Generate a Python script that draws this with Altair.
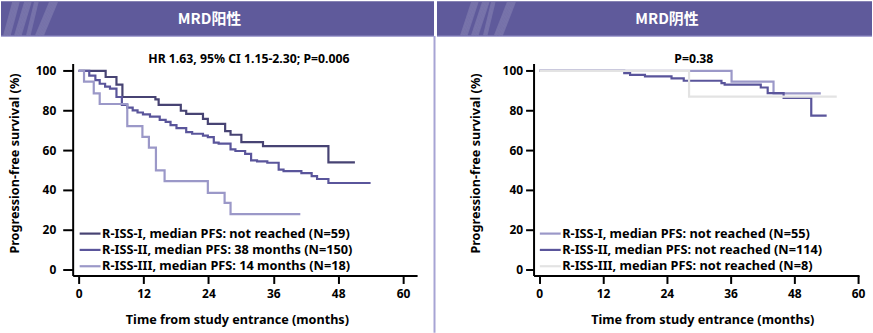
import altair as alt
import pandas as pd

# ---------------- data ----------------
panel_titles = ["MRD阳性", "MRD阴性"]
annotations = ["HR 1.63, 95% CI 1.15-2.30; P=0.006", "P=0.38"]
x_ticks = [0, 12, 24, 36, 48, 60]
y_ticks = [0, 20, 40, 60, 80, 100]
x_title = "Time from study entrance (months)"
y_title = "Progression-free survival (%)"

pos_labels = [
    "R-ISS-I, median PFS: not reached (N=59)",
    "R-ISS-II, median PFS: 38 months (N=150)",
    "R-ISS-III, median PFS: 14 months (N=18)",
]
neg_labels = [
    "R-ISS-I, median PFS: not reached (N=55)",
    "R-ISS-II, median PFS: not reached (N=114)",
    "R-ISS-III, median PFS: not reached (N=8)",
]

# MRD positive
pos_I_t = [0, 5.0, 7.0, 8.1, 14.2, 14.8, 18.9, 19.9, 23.0, 23.9, 27.1, 28.1, 30.1, 34.1, 46.2, 51.1]
pos_I_s = [100, 96.9, 93.0, 86.8, 85.6, 82.8, 79.9, 78.3, 75.8, 73.3, 69.6, 67.8, 64.1, 62.1, 53.9, 53.9]

pos_II_t = [0, 1.97, 3.1, 3.9, 4.9, 5.8, 7.0, 8.0, 9.0, 10.0, 10.9, 11.9, 13.2, 15.0, 16.1, 17.0,
            18.1, 19.9, 21.0, 23.0, 23.9, 25.0, 25.9, 28.1, 29.0, 30.8, 31.9, 33.0, 34.9, 37.0,
            37.9, 41.2, 43.1, 44.1, 46.2, 54.0]
pos_II_s = [100, 97.6, 95.3, 93.5, 92.0, 91.0, 86.8, 82.8, 81.5, 80.1, 79.0, 78.1, 76.9, 75.3, 74.3, 72.6,
            71.1, 69.1, 68.3, 67.4, 66.6, 63.8, 63.3, 60.4, 59.6, 58.2, 54.9, 54.4, 53.7, 50.2,
            49.5, 48.5, 47.0, 45.5, 43.5, 43.5]

pos_III_t = [0, 1.0, 2.8, 3.9, 9.0, 11.8, 13.0, 14.3, 15.9, 23.9, 27.0, 28.1, 41.0]
pos_III_s = [100, 94.6, 88.6, 83.3, 72.1, 66.7, 61.3, 49.9, 44.4, 38.5, 33.5, 27.8, 27.8]

# MRD negative
neg_I_t = [0, 36.2, 44.1, 53.0]
neg_I_s = [100, 94.6, 88.6, 88.6]

neg_II_t = [0, 16.0, 17.1, 19.9, 24.9, 27.2, 34.3, 34.9, 41.7, 43.0, 46.0, 51.2, 54.1]
neg_II_s = [100, 98.8, 98.0, 97.2, 96.2, 95.0, 93.8, 93.0, 91.6, 88.8, 86.3, 77.4, 77.4]

neg_III_t = [0, 28.2, 56.0]
neg_III_s = [100, 87.0, 87.0]

pos_colors = ["#474373", "#5a559b", "#9b98c8"]
neg_colors = ["#9b98c8", "#5a559b", "#e3e3e3"]

BAND = "#5f5a9b"
FONT = "Noto Sans"


def make_df(labels, ts, ss):
    rows = []
    for lab, t, s in zip(labels, ts, ss):
        for a, b in zip(t, s):
            rows.append({"group": lab, "t": a, "s": b})
    return pd.DataFrame(rows)


pos_df = make_df(pos_labels, [pos_I_t, pos_II_t, pos_III_t], [pos_I_s, pos_II_s, pos_III_s])
neg_df = make_df(neg_labels, [neg_I_t, neg_II_t, neg_III_t], [neg_I_s, neg_II_s, neg_III_s])

PH = 213
TOP = -62.5
BOT = -27.5
LEG_ROWS = [170.9, 187.3, 203.7]


def panel(df, labels, colors, title, annot, xdomain, pw, left_ext, right_ext,
          title_x, annot_x, xtitle_x, ytick, ylabpad, stripes_x, divider, leg_x):
    one = pd.DataFrame({"title": [title], "annot": [annot]})
    lines = alt.Chart(df).mark_line(interpolate="step-after", strokeWidth=2.2).encode(
        x=alt.X("t:Q", scale=alt.Scale(domain=xdomain, nice=False, zero=False),
                axis=alt.Axis(values=x_ticks, title=x_title, grid=False, tickSize=8,
                              labelPadding=5, titleX=xtitle_x, titleY=44, titleBaseline="middle")),
        y=alt.Y("s:Q", scale=alt.Scale(domain=[-3.1, 103.7], nice=False, zero=False),
                axis=alt.Axis(values=y_ticks, title=y_title, grid=False, tickSize=ytick,
                              labelPadding=ylabpad, titleX=-58, titleY=100,
                              titleBaseline="middle")),
        color=alt.Color("group:N", scale=alt.Scale(domain=labels, range=colors), legend=None),
    )
    header = alt.Chart(one).mark_rect(color=BAND).encode(
        x=alt.value(-left_ext), x2=alt.value(pw + right_ext),
        y=alt.value(TOP), y2=alt.value(BOT))
    band_line = alt.Chart(one).mark_rule(color="#8e8ac4", strokeWidth=1.2).encode(
        x=alt.value(-left_ext), x2=alt.value(pw + right_ext), y=alt.value(BOT))
    layers = [header, band_line]
    # decorative diagonal stripes, built from thin parallel strokes
    for xb, xt, w in stripes_x:
        n = max(2, int(round(w / 1.5)))
        for k in range(n):
            off = k * 1.5
            layers.append(alt.Chart(one).mark_rule(color="white", opacity=0.14, strokeWidth=1.6).encode(
                x=alt.value(xb + off), x2=alt.value(xt + off),
                y=alt.value(BOT - 0.8), y2=alt.value(TOP + 0.8)))
    head_text = alt.Chart(one).mark_text(font="Noto Sans CJK SC", fontWeight="bold", fontSize=15,
                                         color="white", baseline="middle").encode(
        x=alt.value(title_x), y=alt.value(-45), text="title:N")
    ann = alt.Chart(one).mark_text(font=FONT, fontWeight="bold", fontSize=12.3, color="black",
                                   baseline="middle").encode(
        x=alt.value(annot_x), y=alt.value(-4), text="annot:N")
    layers += [head_text, ann, lines]
    # legend (manual, so that row spacing matches)
    for lab, col, ry in zip(labels, colors, LEG_ROWS):
        ldf = pd.DataFrame({"label": [lab]})
        layers.append(alt.Chart(ldf).mark_rule(color=col, strokeWidth=2.2).encode(
            x=alt.value(leg_x), x2=alt.value(leg_x + 21), y=alt.value(ry)))
        layers.append(alt.Chart(ldf).mark_text(font=FONT, fontWeight="bold", fontSize=12.8,
                                               color="black", align="left", baseline="middle").encode(
            x=alt.value(leg_x + 22.5), y=alt.value(ry), text="label:N"))
    if divider is not None:
        layers.append(alt.Chart(one).mark_rule(color="#a7a4d4", strokeWidth=2).encode(
            x=alt.value(divider), y=alt.value(BOT), y2=alt.value(270.5)))
    return alt.layer(*layers).properties(width=pw, height=PH)


left = panel(pos_df, pos_labels, pos_colors, panel_titles[0], annotations[0],
             [-1.1, 62.6], 346, 72, 17, 137.5, 177, 165, 10, 7,
             [(-69, -60, 7), (-58, -48, 7), (-46, -38, 4), (-37, -23, 9)], 363.5, 7)
right = panel(neg_df, neg_labels, neg_colors, panel_titles[1], annotations[1],
              [-1.07, 60.2], 327, 97, 13, 134, 161, 169.5, 8, 3,
              [(-73, -62, 7), (-62, -51, 7), (-50, -42, 4), (-39, -26, 9)], None, 6.3)

chart = alt.hconcat(left, right, spacing=0).resolve_scale(
    color="independent", x="independent", y="independent"
).properties(
    padding={"left": 0, "right": 0, "top": 0, "bottom": 0},
    autosize=alt.AutoSizeParams(type="pad"),
).configure_view(
    stroke=None
).configure_axis(
    domainColor="black", domainWidth=2, tickColor="black", tickWidth=2,
    labelFont=FONT, labelFontWeight="bold", labelFontSize=12, labelColor="black",
    titleFont=FONT, titleFontWeight="bold", titleFontSize=12.7, titleColor="black",
)

chart.save("out.html", embed_options={"renderer": "svg", "actions": False})
